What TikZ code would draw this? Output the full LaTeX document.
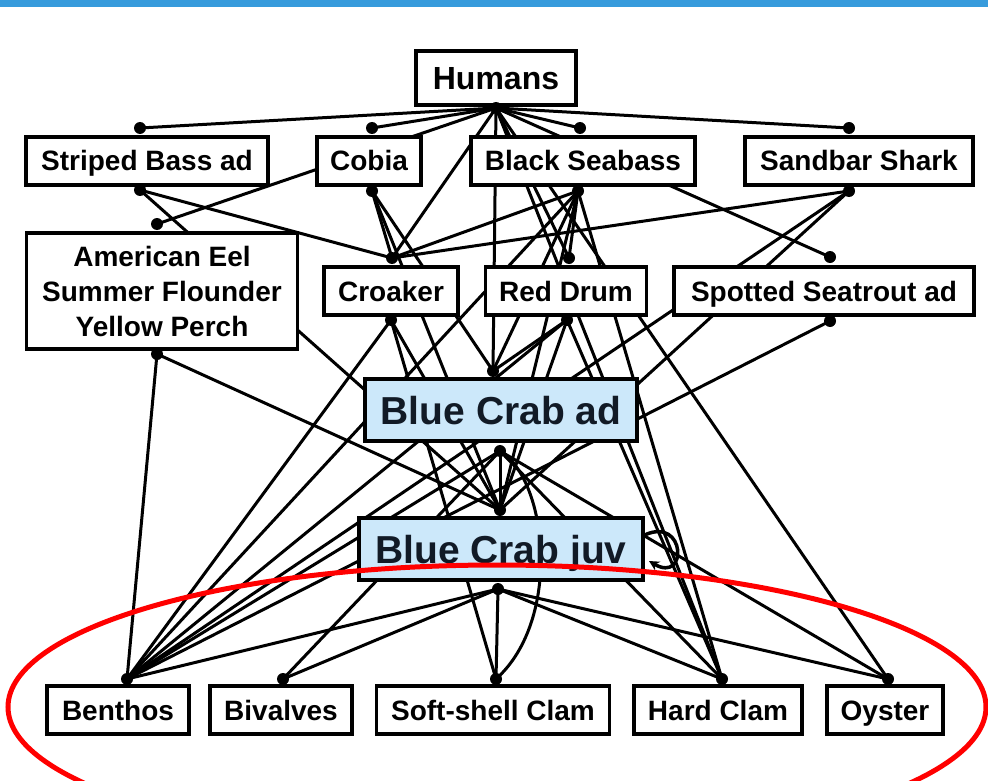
\documentclass[tikz,border=0pt]{standalone}
\usepackage{fontspec}
\setmainfont{Liberation Sans}
\usetikzlibrary{arrows.meta}
\pgfdeclarelayer{paper}
\pgfdeclarelayer{edges}
\pgfsetlayers{paper,edges,main}
\definecolor{barblue}{HTML}{379BDC}
\definecolor{crabfill}{HTML}{CCE8FA}
\definecolor{crabtext}{HTML}{111A26}
\begin{document}
\begin{tikzpicture}[x=1pt,y=-1pt,
  boxbase/.style={draw=black, line width=3.2pt, fill=white, inner sep=0pt,
    font=\fontsize{28}{35}\selectfont\bfseries, text=black, align=center},
  box/.style={boxbase, minimum height=48pt, text height=24pt, text depth=4pt},
  crab/.style={boxbase, fill=crabfill, text=crabtext, minimum height=62pt,
    text height=32pt, text depth=4pt,
    font=\fontsize{39}{44}\selectfont\bfseries},
  link/.style={line width=3pt, black},
  joint/.style={fill=black},
  oval/.style={draw=red, line width=5pt},
]
\clip (0,0) rectangle (988,781);
\begin{pgfonlayer}{paper}
\fill[white] (0,0) rectangle (988,781);
\fill[barblue] (0,0) rectangle (988,7);
\end{pgfonlayer}

% boxes
\node[box, minimum width=160pt, minimum height=54pt, text height=27pt, text depth=3pt,
  font=\fontsize{32}{38}\selectfont\bfseries] (hum) at (496,78) {Humans};
\node[box, minimum width=242pt] (sb) at (147,161) {Striped Bass ad};
\node[box, minimum width=104pt] (co) at (369,161) {Cobia};
\node[box, minimum width=224pt] (bs) at (583,161) {Black Seabass};
\node[box, minimum width=228pt] (sh) at (859,161) {Sandbar Shark};
\node[boxbase, minimum width=271pt, minimum height=116pt] (ae) at (162,291) {American Eel\\Summer Flounder\\Yellow Perch};
\node[box, minimum width=134pt] (cr) at (391,291) {Croaker};
\node[box, minimum width=161pt] (rd) at (566,291) {Red Drum};
\node[box, minimum width=300pt] (ss) at (824,291) {Spotted Seatrout ad};
\node[crab, minimum width=272pt] (ba) at (501,410) {Blue Crab ad};
\node[crab, minimum width=284pt] (bj) at (501,549) {Blue Crab juv};
\node[box, minimum width=142pt] (be) at (118,710) {Benthos};
\node[box, minimum width=142pt] (bi) at (281,710) {Bivalves};
\node[box, minimum width=233pt] (sc) at (493,710) {Soft-shell Clam};
\node[box, minimum width=168pt] (hc) at (718,710) {Hard Clam};
\node[box, minimum width=116pt] (oy) at (885,710) {Oyster};

% link points
\coordinate (Hb) at (496,108);
\coordinate (SBt) at (140,128); \coordinate (SBb) at (140,190);
\coordinate (COt) at (372,128); \coordinate (COb) at (372,191);
\coordinate (BSt) at (580,128); \coordinate (BSb) at (578,191);
\coordinate (SHt) at (849,128); \coordinate (SHb) at (849,191);
\coordinate (AEt) at (157,224); \coordinate (AEb) at (157,354);
\coordinate (CRt) at (392,258); \coordinate (CRb) at (391,320);
\coordinate (RDt) at (569,258); \coordinate (RDb) at (567,320);
\coordinate (SSt) at (830,257); \coordinate (SSb) at (830,321);
\coordinate (BAt) at (493,371); \coordinate (BAb) at (500,451);
\coordinate (BJt) at (500,510); \coordinate (BJb) at (498,589);
\coordinate (BEt) at (127,679);
\coordinate (BIt) at (283,679);
\coordinate (SCt) at (496,679);
\coordinate (HCt) at (722,679);
\coordinate (OYt) at (888,679);

\begin{pgfonlayer}{edges}
\foreach \a/\b in {Hb/SBt, Hb/COt, Hb/BSt, Hb/SHt, Hb/AEt, Hb/CRt, Hb/RDt, Hb/SSt,
  Hb/BAt, Hb/HCt, Hb/OYt,
  SBb/CRt, SBb/BJt,
  COb/CRt, COb/BAt, COb/BJt,
  BSb/CRt, BSb/RDt, BSb/BAt, BSb/BEt, BSb/HCt, BSb/BJt,
  SHb/CRt, SHb/BEt, SHb/BJt,
  AEb/BEt, AEb/BJt,
  CRb/BEt, CRb/BJt, CRb/SCt,
  RDb/BAt, RDb/BJt, RDb/BEt, RDb/HCt,
  SSb/BEt,
  BAb/BJt, BAb/BEt, BAb/BIt, BAb/HCt, BAb/OYt,
  BJb/BEt, BJb/BIt, BJb/SCt, BJb/HCt, BJb/OYt}
  \draw[link] (\a) -- (\b);
\draw[link] (BAb) .. controls (548,480) and (562,620) .. (SCt);
\end{pgfonlayer}

% self loop of juveniles
\draw[line width=3.5pt, -{Stealth[length=10pt,width=10pt]}]
  (bj.east) ++(0,-14) .. controls (686,516) and (688,584) .. (649,561);

% joints
\foreach \p in {Hb,SBt,SBb,COt,COb,BSt,BSb,SHt,SHb,AEt,AEb,CRt,CRb,RDt,RDb,SSt,SSb,
  BAt,BAb,BJt,BJb,BEt,BIt,SCt,HCt,OYt}
  \fill[joint] (\p) circle (6pt);

% highlight of the bottom group
\draw[oval] (497,707) ellipse (489pt and 142pt);
\end{tikzpicture}
\end{document}
